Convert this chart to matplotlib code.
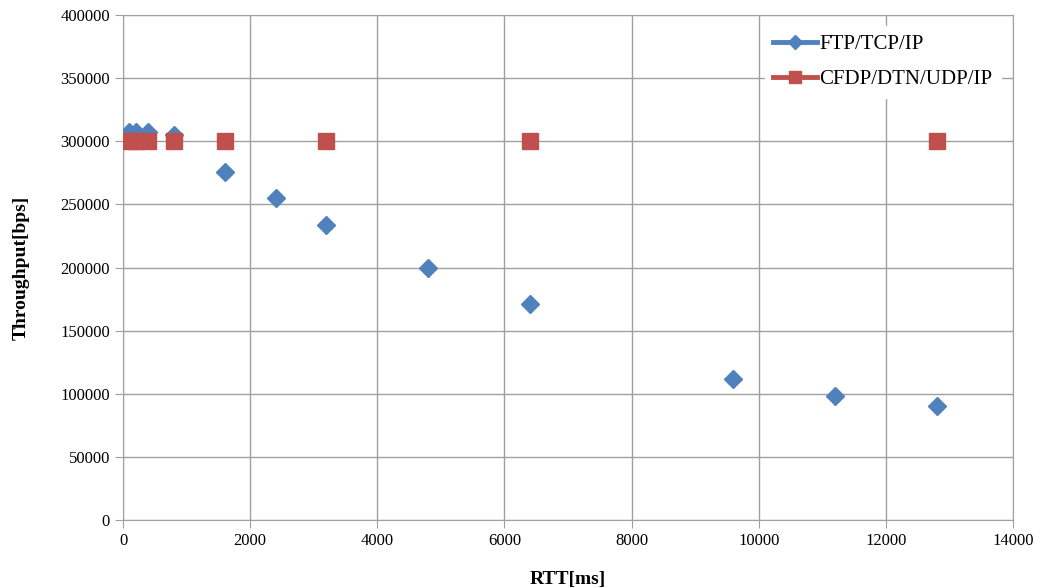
import matplotlib
matplotlib.use("Agg")
import matplotlib.pyplot as plt
from matplotlib.lines import Line2D

# data
rtt_ftp = [100, 200, 400, 800, 1600, 2400, 3200, 4800, 6400, 9600, 11200, 12800]
thr_ftp = [307000, 307000, 307000, 305000, 276000, 255000, 234000, 200000, 171000, 112000, 98000, 90000]
rtt_cfdp = [100, 200, 400, 800, 1600, 3200, 6400, 12800]
thr_cfdp = [300000, 300000, 300000, 300000, 300000, 300000, 300000, 300000]

plt.rcParams["font.family"] = ["Liberation Serif", "DejaVu Serif"]

fig = plt.figure(figsize=(10.46, 5.88), dpi=100)
ax = fig.add_axes([0.1176, 0.1156, 0.8509, 0.8589])

ax.plot(rtt_ftp, thr_ftp, linestyle="none", marker="D", markersize=9,
        color="#4F81BD", label="FTP/TCP/IP", zorder=3)
ax.plot(rtt_cfdp, thr_cfdp, linestyle="none", marker="s", markersize=11,
        color="#C0504D", label="CFDP/DTN/UDP/IP", zorder=3)

ax.set_xlim(0, 14000)
ax.set_ylim(0, 400000)
ax.set_xticks(range(0, 14001, 2000))
ax.set_yticks(range(0, 400001, 50000))
ax.grid(True, color="#a0a0a0", linewidth=1)
ax.set_axisbelow(True)
for s in ax.spines.values():
    s.set_color("#a0a0a0")
ax.tick_params(colors="#a0a0a0", labelcolor="black", labelsize=12, length=6)

ax.set_xlabel("RTT[ms]", fontsize=14, fontweight="bold", labelpad=16)
ax.set_ylabel("Throughput[bps]", fontsize=14, fontweight="bold", labelpad=22)

# legend: line with marker, like the original
h1 = Line2D([], [], color="#4F81BD", linewidth=3.5, marker="D", markersize=7)
h2 = Line2D([], [], color="#C0504D", linewidth=3.5, marker="s", markersize=9)
leg = ax.legend([h1, h2], ["FTP/TCP/IP", "CFDP/DTN/UDP/IP"], loc="upper right",
                bbox_to_anchor=(0.993, 0.99), frameon=True, fancybox=False,
                edgecolor="white", framealpha=1, fontsize=15, handlelength=2.1,
                handletextpad=0.1, labelspacing=0.75, borderaxespad=0.3)

fig.savefig("out.png", dpi=100)
